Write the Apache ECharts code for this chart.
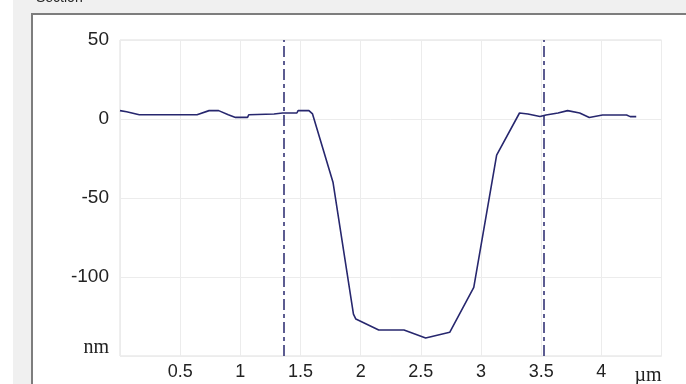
<!DOCTYPE html>
<html>
<head>
<meta charset="utf-8">
<style>
html,body{margin:0;padding:0;background:#f0f0f0;}
#chart{width:686px;height:384px;}
</style>
<script src="https://cdn.jsdelivr.net/npm/echarts@6/dist/echarts.min.js"></script>
</head>
<body>
<div id="chart"></div>
<script>
// Profile position (µm)
const positions = [0.0, 0.055, 0.16, 0.64, 0.74, 0.82, 0.90, 0.96, 1.06, 1.07, 1.28, 1.35, 1.47, 1.48, 1.57, 1.60,
  1.77, 1.94, 1.96, 2.15, 2.36, 2.54, 2.74, 2.94, 3.13, 3.32, 3.39, 3.49, 3.54, 3.64, 3.72, 3.82, 3.90, 4.01, 4.21, 4.24, 4.29];
// Profile height (nm)
const heights = [5.3, 4.6, 2.7, 2.7, 5.3, 5.3, 2.7, 1.0, 1.0, 2.7, 3.2, 3.8, 3.8, 5.3, 5.3, 3.2,
  -40, -123.5, -126.6, -133.5, -133.5, -138.6, -135, -106.6, -22.9, 3.8, 3.2, 1.6, 2.5, 3.8, 5.3, 3.8, 1.0, 2.5, 2.5, 1.5, 1.5];
// Cursor lines (µm)
const cursors = [1.356, 3.525];
// Axis tick settings
const xTicks = {min: 0, max: 4.5, step: 0.5, unit: 'µm'};
const yTicks = {min: -150, max: 50, step: 50, unit: 'nm'};
const title = 'Section';

const lineColor = '#27276e';
const points = positions.map((x, i) => [x, heights[i]]);

const chart = echarts.init(document.getElementById('chart'), null, {renderer: 'canvas'});
chart.setOption({
  animation: false,
  backgroundColor: '#f0f0f0',
  graphic: [
    {type: 'rect', shape: {x: 0, y: 0, width: 13, height: 384}, style: {fill: '#ffffff'}, z: -10},
    {type: 'rect', shape: {x: 32, y: 14, width: 700, height: 420}, style: {fill: '#ffffff', stroke: '#7d7d7d', lineWidth: 2}, z: -9},
    {type: 'text', x: 36, y: 5, style: {text: title, fill: '#222', font: '14px "Liberation Sans", Arial, sans-serif', textVerticalAlign: 'bottom'}, z: -8}
  ],
  grid: {left: 120, top: 40, width: 541.5, height: 316, outerBoundsMode: 'none', containLabel: false, show: true, borderColor: '#dedede', borderWidth: 1, backgroundColor: 'transparent'},
  xAxis: {
    type: 'value', min: xTicks.min, max: xTicks.max, interval: xTicks.step,
    axisLine: {show: false}, axisTick: {show: false},
    splitLine: {show: true, lineStyle: {color: '#ececec', width: 1}},
    axisLabel: {
      color: '#222', fontSize: 18, fontFamily: '"Liberation Sans", Arial, sans-serif', margin: 7,
      showMinLabel: true, showMaxLabel: true, alignMaxLabel: 'right',
      formatter: function (v) {
        if (v === xTicks.min) return '';
        if (Math.abs(v - xTicks.max) < 1e-9) return '{u|' + xTicks.unit + '}';
        return String(v);
      },
      rich: {u: {fontFamily: '"Liberation Serif", "Times New Roman", serif', fontSize: 20, color: '#222', padding: [3, 0, 0, 0]}}
    }
  },
  yAxis: {
    type: 'value', min: yTicks.min, max: yTicks.max, interval: yTicks.step,
    axisLine: {show: false}, axisTick: {show: false},
    splitLine: {show: true, lineStyle: {color: '#ececec', width: 1}},
    axisLabel: {
      color: '#222', fontSize: 19, fontFamily: '"Liberation Sans", Arial, sans-serif', margin: 11,
      showMinLabel: true, showMaxLabel: true,
      formatter: function (v) {
        if (v === yTicks.min) return '{u|' + yTicks.unit + '}';
        return String(v);
      },
      rich: {u: {fontFamily: '"Liberation Serif", "Times New Roman", serif', fontSize: 20, color: '#222', padding: [0, 0, 16, 0]}}
    }
  },
  series: [{
    type: 'line', data: points, showSymbol: false, symbol: 'none',
    lineStyle: {color: lineColor, width: 1.6},
    emphasis: {disabled: true},
    markLine: {
      silent: true, symbol: ['none', 'none'], label: {show: false},
      lineStyle: {color: lineColor, width: 1.5, type: [11, 4, 4, 4]},
      emphasis: {disabled: true},
      data: cursors.map(c => ({xAxis: c}))
    }
  }]
});
</script>
</body>
</html>
